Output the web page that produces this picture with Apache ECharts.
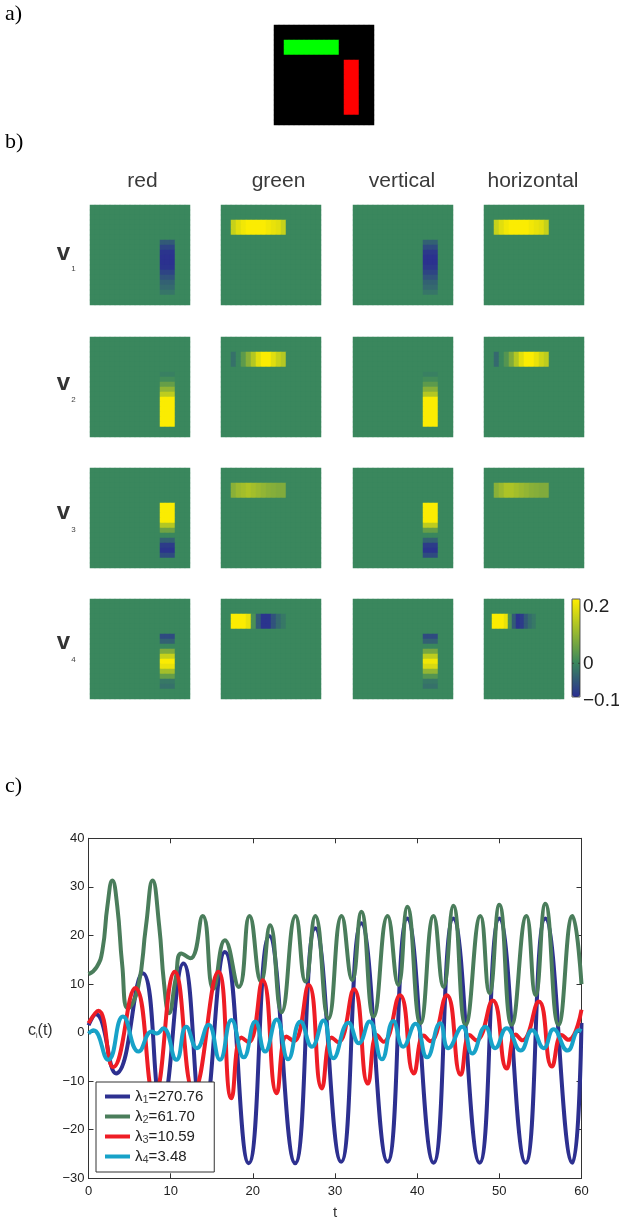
<!DOCTYPE html>
<html><head><meta charset="utf-8">
<script src="https://cdn.jsdelivr.net/npm/echarts@6/dist/echarts.min.js"></script>
<style>html,body{margin:0;padding:0;background:#fff}#c{width:619px;height:1222px}</style>
</head><body><div id="c"></div>
<script>
// ---------- image grid data ----------
const GRID_N = 20;
const VBAR_COLS = [14, 16];   // red / vertical bar
const VBAR_ROWS = [7, 17];
const HBAR_COLS = [2, 12];    // green / horizontal bar
const HBAR_ROWS = [3, 5];
const featureNames = ['red', 'green', 'vertical', 'horizontal'];
const vectorIds = ['1', '2', '3', '4'];

// profiles along the bar (11 cells): vertical bars top->bottom, horizontal bars left->right
const v1_red   = [-0.06, -0.09, -0.11, -0.115, -0.115, -0.11, -0.09, -0.07, -0.05, -0.04, -0.025];
const v1_green = [0.16, 0.19, 0.21, 0.22, 0.22, 0.22, 0.22, 0.21, 0.2, 0.19, 0.16];
const v1_vert  = [-0.05, -0.08, -0.105, -0.115, -0.115, -0.105, -0.09, -0.07, -0.05, -0.04, -0.025];
const v1_horiz = [0.16, 0.19, 0.21, 0.22, 0.22, 0.22, 0.22, 0.21, 0.2, 0.19, 0.16];

const v2_red   = [-0.01, 0.01, 0.05, 0.1, 0.15, 0.22, 0.22, 0.22, 0.22, 0.22, 0.22];
const v2_green = [-0.03, 0.0, 0.04, 0.09, 0.14, 0.19, 0.22, 0.22, 0.19, 0.16, 0.14];
const v2_vert  = [-0.01, 0.01, 0.04, 0.09, 0.14, 0.22, 0.22, 0.22, 0.22, 0.22, 0.22];
const v2_horiz = [-0.04, 0.0, 0.03, 0.08, 0.14, 0.19, 0.22, 0.22, 0.2, 0.17, 0.15];

const v3_red   = [0.22, 0.22, 0.22, 0.22, 0.14, 0.06, 0.0, -0.05, -0.1, -0.11, -0.08];
const v3_green = [0.09, 0.11, 0.12, 0.13, 0.12, 0.11, 0.1, 0.09, 0.085, 0.08, 0.08];
const v3_vert  = [0.22, 0.22, 0.22, 0.22, 0.15, 0.05, 0.0, -0.05, -0.1, -0.11, -0.08];
const v3_horiz = [0.09, 0.11, 0.13, 0.13, 0.12, 0.11, 0.1, 0.09, 0.085, 0.08, 0.08];

const v4_red   = [-0.08, -0.05, 0.0, 0.08, 0.16, 0.22, 0.2, 0.12, 0.05, -0.02, -0.03];
const v4_green = [0.22, 0.22, 0.22, 0.2, 0.02, -0.06, -0.11, -0.11, -0.07, -0.04, -0.02];
const v4_vert  = [-0.08, -0.05, 0.0, 0.07, 0.15, 0.21, 0.18, 0.1, 0.03, -0.02, -0.03];
const v4_horiz = [0.22, 0.22, 0.22, 0.2, 0.02, -0.06, -0.11, -0.1, -0.06, -0.035, -0.02];

const profiles = [
  [v1_red, v1_green, v1_vert, v1_horiz],
  [v2_red, v2_green, v2_vert, v2_horiz],
  [v3_red, v3_green, v3_vert, v3_horiz],
  [v4_red, v4_green, v4_vert, v4_horiz]
];
const colorbarTicks = ['0.2', '0', '\u22120.1'];

// ---------- time courses c_i(t): [t, value] ----------
const lambdaLabels = ['270.76', '61.70', '10.59', '3.48'];
const c1 = [[0,1.5],[0.9,3.8],[3.35,-8.4],[6.6,12.2],[8.9,-15],[11.55,14.2],[13.9,-18],[16.6,16.6],[19.5,-26.9],[22.0,19.9],[25.15,-26.9],[27.6,21.5],[30.75,-26.6],[33.2,22.5],[36.4,-26.6],[38.8,23.5],[42.0,-26.8],[44.4,23.5],[47.6,-26.8],[50.0,23.5],[53.2,-26.8],[55.6,23.5],[58.9,-26.8],[60,2]];
const c2 = [[0,12],[1.0,13.5],[1.7,17],[2.3,26],[2.9,31.3],[3.5,26],[4.1,14],[4.8,5],[6.0,9],[7.0,22],[7.8,31.3],[8.6,22],[9.2,10],[9.8,4],[10.6,11],[11.3,16.3],[12.4,15.3],[13.9,24],[15.2,9],[16.6,19],[18.3,9.4],[19.6,24],[21.0,10.5],[22.1,22.1],[23.5,4.2],[25.2,24],[26.4,10.5],[27.6,24],[29.2,2.9],[30.8,24],[32.1,10.8],[33.2,24.9],[34.7,3.3],[36.4,24],[37.7,9.8],[38.8,25.9],[40.4,1.9],[42.0,24],[43.2,9.4],[44.4,26.1],[45.9,1.6],[47.7,24],[48.8,8.1],[50.0,26.3],[51.5,1.6],[53.3,24],[54.4,7.7],[55.6,26.5],[57.2,1.6],[58.9,24],[60,10]];
const c3 = [[0,1.9],[1.2,4.5],[3.0,-7.1],[5.7,9.2],[8.0,-13],[10.5,12.5],[12.8,-12],[15.8,12.5],[17.4,-13.5],[18.6,-1],[19.5,-2],[21.2,10.8],[22.9,-12.5],[24.1,-0.8],[25.0,-1.8],[26.8,9.8],[28.4,-11.5],[29.6,-1],[30.4,-2],[32.3,8.9],[34.0,-10.5],[35.1,-0.5],[35.9,-1.9],[37.9,7.7],[39.6,-8.4],[40.8,-0.6],[41.6,-1.8],[43.6,7.7],[45.3,-8.7],[46.4,-0.5],[47.2,-1.6],[49.2,6.6],[50.9,-7.4],[52.0,-0.4],[52.8,-1.6],[54.8,6.4],[56.4,-7],[57.6,-0.5],[58.4,-1.5],[60,4.7]];
const c4 = [[0,-0.2],[0.6,0.5],[2.4,-5.6],[4.2,3.3],[6.1,-3.9],[7.7,0.2],[8.3,-0.2],[9.1,0.9],[10.7,-5.6],[11.9,1.2],[13.2,-3.2],[14.6,1.6],[16.0,-5.6],[17.4,2.6],[18.9,-5.1],[20.3,2.3],[21.5,-3.9],[22.9,2.7],[24.3,-5.5],[25.8,2.3],[27.2,-2.9],[28.6,2.5],[29.8,-5.3],[31.65,2.0],[32.9,-2.2],[34.2,2.3],[35.7,-5.5],[37.1,2.4],[38.3,-2.9],[39.8,1.8],[41.2,-5.1],[42.8,1.9],[43.8,-3.2],[45.5,1.2],[46.7,-4.3],[48.3,1.2],[49.5,-3.2],[50.9,0.9],[52.6,-3.7],[54.0,0.5],[55.4,-3.2],[56.6,0.7],[58.3,-3.7],[59.7,0.5],[60,0.3]];
const lineSeriesData = [c1, c2, c3, c4];
const xTicks = [0, 60, 10];
const yTicks = [-30, 40, 10];

// ---------- styling ----------
const FONT = 'Liberation Sans, Arial, Helvetica, sans-serif';
const lineColors = ['#2d3090', '#4a7d5b', '#ee1d25', '#17a2c8'];
const CM_LOW = [42, 45, 145], CM_MID = [58, 135, 93], CM_HIGH = [255, 238, 0];
const CM_MIN = -0.12, CM_MAX = 0.225, CM_STEPS = 24;
function buildCmap() {
  const out = [];
  for (let k = 0; k < CM_STEPS; k++) {
    const v = CM_MIN + k * (CM_MAX - CM_MIN) / (CM_STEPS - 1);
    let a, b, f;
    if (v <= 0) { a = CM_LOW; b = CM_MID; f = (v - CM_MIN) / (0 - CM_MIN); }
    else { a = CM_MID; b = CM_HIGH; f = v / CM_MAX; }
    f = Math.max(0, Math.min(1, f));
    const c = a.map((x, i) => Math.round(x + (b[i] - x) * f));
    out.push('rgb(' + c.join(',') + ')');
  }
  return out;
}
const BG_GREEN = 'rgb(' + CM_MID.join(',') + ')';

const cats = Array.from({length: GRID_N}, (_, i) => i);
function panelData(profile, vertical) {
  const d = [];
  for (let y = 0; y < GRID_N; y++) for (let x = 0; x < GRID_N; x++) {
    let v = 0;
    if (vertical) {
      if (x >= VBAR_COLS[0] && x <= VBAR_COLS[1] && y >= VBAR_ROWS[0] && y <= VBAR_ROWS[1]) v = profile[y - VBAR_ROWS[0]];
    } else {
      if (y >= HBAR_ROWS[0] && y <= HBAR_ROWS[1] && x >= HBAR_COLS[0] && x <= HBAR_COLS[1]) v = profile[x - HBAR_COLS[0]];
    }
    d.push([x, y, v]);
  }
  return d;
}
function stimulusData() {
  const d = [];
  for (let y = 0; y < GRID_N; y++) for (let x = 0; x < GRID_N; x++) {
    let v = 0;
    if (y >= HBAR_ROWS[0] && y <= HBAR_ROWS[1] && x >= HBAR_COLS[0] && x <= HBAR_COLS[1]) v = 1;
    if (x >= VBAR_COLS[0] && x <= VBAR_COLS[1] && y >= VBAR_ROWS[0] && y <= VBAR_ROWS[1]) v = 2;
    d.push([x, y, v]);
  }
  return d;
}

const grids = [], xAxes = [], yAxes = [], series = [];
function addImageGrid(l, t, w, h, bg) {
  const gi = grids.length;
  grids.push({left: l, top: t, width: w, height: h, show: true, backgroundColor: bg, borderWidth: 0});
  xAxes.push({type: 'category', gridIndex: gi, data: cats, show: false});
  yAxes.push({type: 'category', gridIndex: gi, data: cats, inverse: true, show: false});
  return gi;
}
// panel a
let gi = addImageGrid(274, 25, 100, 100, '#000');
series.push({type: 'heatmap', xAxisIndex: gi, yAxisIndex: gi, data: stimulusData(), emphasis: {disabled: true}, animation: false});

const colLeft = [90, 221, 353, 484];
const rowTop = [205, 337, 468, 599];
const heatIdx = [];
for (let r = 0; r < 4; r++) for (let c = 0; c < 4; c++) {
  const w = (r === 3 && c === 3) ? 80 : 100;
  gi = addImageGrid(colLeft[c], rowTop[r], w, 100, BG_GREEN);
  heatIdx.push(series.length);
  series.push({type: 'heatmap', xAxisIndex: gi, yAxisIndex: gi,
    data: panelData(profiles[r][c], c === 0 || c === 2),
    emphasis: {disabled: true}, animation: false});
}

// line chart
const lg = grids.length;
grids.push({left: 88.5, top: 838.3, width: 493, height: 340, show: false});
const axisCol = '#333';
const minusFmt = v => (v < 0 ? '\u2212' + (-v) : String(v));
function frameAxis(extra) {
  return Object.assign({type: 'value', gridIndex: lg,
    axisLine: {show: true, onZero: false, lineStyle: {color: axisCol, width: 1}},
    axisTick: {show: true, inside: true, length: 5, lineStyle: {color: axisCol}},
    splitLine: {show: false}}, extra);
}
xAxes.push(frameAxis({min: xTicks[0], max: xTicks[1], interval: xTicks[2], position: 'bottom',
  axisLabel: {margin: 7, color: '#222', fontSize: 13, fontFamily: FONT, formatter: minusFmt},
  name: 't', nameLocation: 'middle', nameGap: 27, nameTextStyle: {fontSize: 15, color: '#333', fontFamily: FONT}}));
xAxes.push(frameAxis({min: xTicks[0], max: xTicks[1], interval: xTicks[2], position: 'top', axisLabel: {show: false}}));
yAxes.push(frameAxis({min: yTicks[0], max: yTicks[1], interval: yTicks[2], position: 'left',
  axisLabel: {margin: 4, color: '#222', fontSize: 13, fontFamily: FONT, formatter: minusFmt}}));
yAxes.push(frameAxis({min: yTicks[0], max: yTicks[1], interval: yTicks[2], position: 'right', axisLabel: {show: false}}));

const seriesNames = lambdaLabels.map((v, i) => 'lambda' + (i + 1));
lineSeriesData.forEach((d, i) => {
  series.push({type: 'line', name: seriesNames[i], xAxisIndex: lg, yAxisIndex: lg, data: d,
    smooth: 0.5, showSymbol: false, symbol: 'none', lineStyle: {width: 4, color: lineColors[i]},
    itemStyle: {color: lineColors[i]}, emphasis: {disabled: true}, animation: false});
});

// texts
const graphics = [];
function txt(x, y, s, opt) {
  graphics.push({type: 'text', x: x, y: y, silent: true, z: 100, style: Object.assign({text: s, fill: '#000', font: '22px Liberation Serif, Times New Roman, serif', textAlign: 'left', textVerticalAlign: 'middle'}, opt || {})});
}
txt(5, 14, 'a)');
txt(5, 142, 'b)');
txt(5, 786, 'c)');
const headerX = [142.5, 278.5, 402, 533];
featureNames.forEach((n, i) => txt(headerX[i], 181, n, {font: '21px ' + FONT, fill: '#3a3a3a', textAlign: 'center'}));
const vRowY = [253, 383, 512, 642];
const vSubY = [269, 400, 530, 660];
vectorIds.forEach((id, i) => {
  txt(63.5, vRowY[i], 'v', {font: 'bold 24px ' + FONT, fill: '#333', textAlign: 'center'});
  txt(73.5, vSubY[i], id, {font: '8px ' + FONT, fill: '#444', textAlign: 'center'});
});
// y-axis title c_i(t)
graphics.push({type: 'text', x: 28, y: 1031, silent: true, z: 100, style: {
  text: 'c{s|i}(t)', font: '16px ' + FONT, fill: '#333', textAlign: 'left', textVerticalAlign: 'middle',
  rich: {s: {fontSize: 7, fill: '#333', padding: [11, 0, 0, 0], verticalAlign: 'bottom'}}}});
// colorbar frame + labels
graphics.push({type: 'rect', silent: true, z: 100, shape: {x: 572, y: 599, width: 8, height: 98}, style: {fill: null, stroke: '#333', lineWidth: 0.8}});
graphics.push({type: 'line', silent: true, z: 100, shape: {x1: 572, y1: 663.3, x2: 574, y2: 663.3}, style: {stroke: '#333', lineWidth: 0.8}});
graphics.push({type: 'line', silent: true, z: 100, shape: {x1: 578, y1: 663.3, x2: 580, y2: 663.3}, style: {stroke: '#333', lineWidth: 0.8}});
const cbLabelY = [606.7, 663.3, 701];
colorbarTicks.forEach((s, i) => txt(583, cbLabelY[i], s, {font: '19px ' + FONT, fill: '#222'}));

const option = {
  animation: false,
  backgroundColor: '#fff',
  grid: grids, xAxis: xAxes, yAxis: yAxes, series: series,
  visualMap: [
    {type: 'piecewise', seriesIndex: 0, dimension: 2, show: false,
      pieces: [{value: 0, color: '#000000'}, {value: 1, color: '#00ff00'}, {value: 2, color: '#ff0000'}]},
    {type: 'continuous', seriesIndex: heatIdx, dimension: 2, min: CM_MIN, max: CM_MAX,
      inRange: {color: buildCmap()}, show: true, calculable: false, hoverLink: false,
      left: 572, top: 599, itemWidth: 8, itemHeight: 98, padding: 0, text: null, realtime: false}
  ],
  legend: {
    data: seriesNames, orient: 'vertical', left: 96, top: 1082, selectedMode: false,
    backgroundColor: '#fff', borderColor: '#333', borderWidth: 1, borderRadius: 0,
    padding: [7, 11, 7, 9], itemGap: 4, itemWidth: 25, itemHeight: 4, icon: 'rect',
    formatter: name => { const i = seriesNames.indexOf(name); return '{l|\u03bb}{s|' + (i + 1) + '}{l|=' + lambdaLabels[i] + '}'; },
    textStyle: {color: '#222', fontFamily: FONT, fontSize: 15, rich: {
      l: {fontSize: 15, color: '#222', fontFamily: FONT, lineHeight: 16.5},
      s: {fontSize: 11, color: '#444', fontFamily: FONT, padding: [6, 0, 0, 0], verticalAlign: 'bottom'}}}
  },
  graphic: graphics
};
const chart = echarts.init(document.getElementById('c'));
chart.setOption(option);
</script></body></html>
